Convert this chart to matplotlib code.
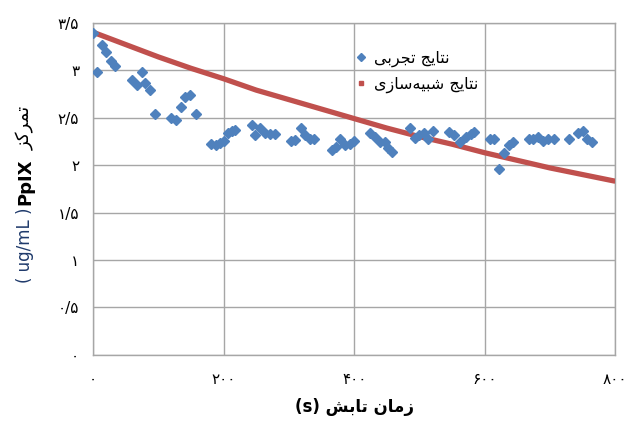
import matplotlib
matplotlib.use("Agg")
import matplotlib.pyplot as plt
from matplotlib.lines import Line2D

# measured PpIX concentration (ug/mL) vs irradiation time (s)
exp_time = [0, 5.6, 13.8, 20, 27.6, 33.7, 59.3, 67, 74.6, 80.2, 87.9, 95.5,
            119.5, 126.7, 134.4, 141.5, 149.1, 157.9, 180.3, 188, 194.6, 200.8,
            206.9, 213.5, 218.1, 243.7, 248.8, 256.4, 263.6, 271.3, 278.9,
            303, 310, 318.3, 325.4, 332.6, 339.2, 365.8, 371.5, 378.5, 386.2,
            393.9, 400.5, 424.5, 431.2, 439.8, 446.5, 452.1, 458.3, 484.8,
            492.5, 499.1, 506.8, 513.4, 520.6, 545.6, 553.3, 561.4, 570.8,
            578.4, 583.4, 607.4, 614, 621.2, 628.8, 636.5, 643.1, 667.2, 673.8,
            681.5, 689.2, 696.8, 705.5, 728.5, 742.8, 749.9, 756.6, 764.2]
exp_conc = [3.39, 2.98, 3.27, 3.19, 3.10, 3.04, 2.90, 2.84, 2.98, 2.87, 2.79,
            2.54, 2.50, 2.48, 2.61, 2.72, 2.74, 2.54, 2.22, 2.21, 2.23, 2.25,
            2.34, 2.36, 2.37, 2.42, 2.32, 2.39, 2.34, 2.33, 2.33, 2.25, 2.26,
            2.39, 2.32, 2.27, 2.27, 2.16, 2.19, 2.27, 2.21, 2.22, 2.25, 2.34,
            2.30, 2.24, 2.24, 2.18, 2.14, 2.39, 2.29, 2.32, 2.34, 2.28, 2.36,
            2.35, 2.32, 2.24, 2.30, 2.33, 2.35, 2.27, 2.27, 1.96, 2.13, 2.21,
            2.24, 2.28, 2.27, 2.30, 2.25, 2.27, 2.27, 2.28, 2.34, 2.36, 2.28,
            2.24]

# simulated curve
sim_time = [0, 50, 100, 150, 200, 250, 300, 350, 400, 450, 500, 550, 600,
            650, 700, 750, 800]
sim_conc = [3.40, 3.27, 3.14, 3.02, 2.91, 2.79, 2.69, 2.59, 2.49, 2.39, 2.30,
            2.22, 2.13, 2.05, 1.97, 1.90, 1.83]

x_ticks = [0, 200, 400, 600, 800]
x_ticklabels = ["۰", "۲۰۰", "۴۰۰", "۶۰۰", "۸۰۰"]
y_ticks = [0, 0.5, 1, 1.5, 2, 2.5, 3, 3.5]
y_ticklabels = ["۰", "۰/۵", "۱", "۱/۵", "۲", "۲/۵", "۳", "۳/۵"]

# Persian strings written in shaped presentation forms, visual order
lbl_exp = "\uFEF0\uFE91\uFEAE\uFEA0\uFE97 \uFE9E\uFEF3\uFE8E\uFE98\uFEE7"
lbl_sim = ("\uFEEF\uFEAF\uFE8E\uFEB3\uFEEA\uFEF4\uFE92\uFEB7 "
           "\uFE9E\uFEF3\uFE8E\uFE98\uFEE7")
xlabel_fa = "\uFEB6\uFE91\uFE8E\uFE97 \uFEE5\uFE8E\uFEE3\uFEAF"
ylabel_fa = "\uFEB0\uFB90\uFEAE\uFEE4\uFE97"

plt.rcParams['font.family'] = ['DejaVu Sans']

fig = plt.figure(figsize=(6.33, 4.21), dpi=100)
ax = fig.add_axes([0.147, 0.157, 0.825, 0.789])

blue = "#4F81BD"
red = "#C0504D"
grid_c = "#A6A6A6"

ax.plot(sim_time, sim_conc, color=red, lw=3.8, solid_capstyle='butt', zorder=3)
ax.plot(exp_time, exp_conc, ls='none', marker='D', ms=4.6, color=blue,
        mec=blue, zorder=4)

ax.set_xlim(0, 800)
ax.set_ylim(0, 3.5)
ax.set_xticks(x_ticks)
ax.set_xticklabels(x_ticklabels, fontsize=11)
ax.set_yticks(y_ticks)
ax.set_yticklabels(y_ticklabels, fontsize=11)
ax.tick_params(length=0, pad=10)
ax.tick_params(axis='x', pad=12)
ax.grid(True, color=grid_c, lw=1)
ax.set_axisbelow(True)
for s in ax.spines.values():
    s.set_color(grid_c)
    s.set_linewidth(1)

ax.set_xlabel("(s) " + xlabel_fa, fontsize=12, fontweight='bold', labelpad=8)

# y label: units, PpIX, Persian word stacked along the axis
fig.text(0.040, 0.418, "( ug/mL )", rotation=90, fontsize=12, color="#1F3A6B",
         ha='center', va='center')
fig.text(0.040, 0.568, "PpIX", rotation=90, fontsize=13, fontweight='bold',
         ha='center', va='center')
fig.text(0.040, 0.695, ylabel_fa, rotation=90, fontsize=13,
         ha='center', va='center')

handles = [
    Line2D([], [], ls='none', marker='D', ms=4.5, color=blue),
    Line2D([], [], ls='none', marker='s', ms=2.5, color=red),
]
ax.legend(handles, [lbl_exp, lbl_sim], loc='upper left',
          bbox_to_anchor=(0.47, 0.96), frameon=False, fontsize=11.5,
          handletextpad=0.3, handlelength=1.0, labelspacing=0.6)

fig.savefig("out.png", dpi=100)
